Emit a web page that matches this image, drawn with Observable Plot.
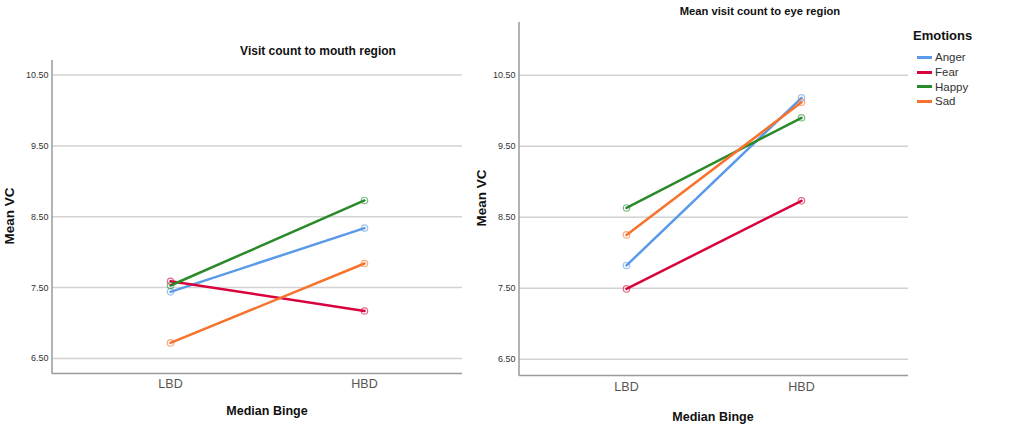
<!DOCTYPE html>
<html>
<head>
<meta charset="utf-8">
<script src="https://cdn.jsdelivr.net/npm/d3@7"></script>
<script src="https://cdn.jsdelivr.net/npm/@observablehq/plot@0.6"></script>
<style>
  html, body { margin: 0; padding: 0; background: #fff; }
  #wrap { position: relative; width: 1018px; height: 425px; overflow: hidden; font-family: "Liberation Sans", Arial, sans-serif; }
  .lbl { position: absolute; transform: translate(-50%, -50%); white-space: nowrap; line-height: 1; color: #111; font-weight: bold; }
  .rot { transform: translate(-50%, -50%) rotate(-90deg); }
  #legend { position: absolute; left: 913px; top: 28px; font-size: 11.5px; color: #333; }
  #legend .ttl { font-weight: bold; font-size: 13px; color: #111; margin-bottom: 7px; }
  #legend .row { display: flex; align-items: center; height: 14.7px; margin-left: 4px; }
  #legend .sw { width: 15px; height: 3px; margin-right: 3px; }
</style>
</head>
<body>
<div id="wrap"></div>
<script>
// ---- data ----
const groups = ["LBD", "HBD"];
const emotions = ["Anger", "Fear", "Happy", "Sad"];
const emotionColors = ["#5a9ae8", "#d8033c", "#2a8a2a", "#f7722b"];
const mouthLBD = [7.44, 7.59, 7.53, 6.72];
const mouthHBD = [8.34, 7.17, 8.73, 7.84];
const eyeLBD = [7.82, 7.49, 8.63, 8.25];
const eyeHBD = [10.18, 8.73, 9.90, 10.12];
const yTicks = [6.5, 7.5, 8.5, 9.5, 10.5];
const mouthTitle = "Visit count to mouth region";
const eyeTitle = "Mean visit count to eye region";
const yLabel = "Mean VC";
const xLabel = "Median Binge";
const legendTitle = "Emotions";

function toRows(lbd, hbd) {
  const rows = [];
  emotions.forEach((e, i) => {
    rows.push({emotion: e, group: groups[0], value: lbd[i]});
    rows.push({emotion: e, group: groups[1], value: hbd[i]});
  });
  return rows;
}

function panel(rows, o) {
  const svg = Plot.plot({
    width: o.width, height: 425,
    marginLeft: o.ml, marginRight: o.mr, marginTop: o.mt, marginBottom: o.mb,
    style: {fontFamily: "'Liberation Sans', Arial, sans-serif", background: "transparent", overflow: "visible"},
    x: {type: "point", domain: groups, padding: 0.5, insetLeft: o.il, insetRight: o.ir, axis: null},
    y: {domain: o.ydom, axis: null},
    color: {domain: emotions, range: emotionColors},
    marks: [
      Plot.ruleY(yTicks, {stroke: "#d2d2d2", strokeWidth: 1.5}),
      Plot.ruleY([o.ydom[0]], {stroke: "#9a9a9a", strokeWidth: 1.5}),
      Plot.axisY(yTicks, {tickSize: 0, tickPadding: 4, tickFormat: d3.format(".2f"), fontSize: 9, fill: "#333", label: null}),
      Plot.axisX({tickSize: 0, tickPadding: o.xpad, fontSize: 12.5, fill: "#555", label: null}),
      Plot.line(rows, {x: "group", y: "value", z: "emotion", stroke: "emotion", strokeWidth: 2.5}),
      Plot.dot(rows, {x: "group", y: "value", stroke: "emotion", r: 3.2, strokeWidth: 1.2, strokeOpacity: 0.6, fill: "none"})
    ]
  });
  d3.select(svg).append("line")
    .attr("x1", o.ml).attr("x2", o.ml)
    .attr("y1", o.mt).attr("y2", 425 - o.mb + 0.75)
    .attr("stroke", "#9a9a9a").attr("stroke-width", 1.5);
  svg.style.position = "absolute";
  svg.style.left = o.left + "px";
  svg.style.top = "0px";
  return svg;
}

const wrap = document.getElementById("wrap");

wrap.appendChild(panel(toRows(mouthLBD, mouthHBD), {
  left: 0, width: 470, ml: 52, mr: 8, mt: 60, mb: 52, il: 21, ir: 1,
  ydom: [6.288, 10.705], xpad: 6
}));
wrap.appendChild(panel(toRows(eyeLBD, eyeHBD), {
  left: 470, width: 548, ml: 49, mr: 110, mt: 22, mb: 50, il: 19.5, ir: 19.5,
  ydom: [6.27, 11.242], xpad: 7
}));

function label(text, x, y, size, rot) {
  const d = document.createElement("div");
  d.className = "lbl" + (rot ? " rot" : "");
  d.style.left = x + "px";
  d.style.top = y + "px";
  d.style.fontSize = size + "px";
  d.textContent = text;
  wrap.appendChild(d);
}
label(mouthTitle, 318, 51, 12);
label(eyeTitle, 760, 12, 11.2);
label(yLabel, 10, 216, 13.5, true);
label(yLabel, 482, 198, 13.5, true);
label(xLabel, 267, 411, 12.5);
label(xLabel, 713, 417, 12.5);

// legend
const lg = document.createElement("div");
lg.id = "legend";
const t = document.createElement("div");
t.className = "ttl";
t.textContent = legendTitle;
lg.appendChild(t);
emotions.forEach((e, i) => {
  const r = document.createElement("div");
  r.className = "row";
  const sw = document.createElement("span");
  sw.className = "sw";
  sw.style.background = emotionColors[i];
  const tx = document.createElement("span");
  tx.textContent = e;
  r.appendChild(sw); r.appendChild(tx);
  lg.appendChild(r);
});
wrap.appendChild(lg);
</script>
</body>
</html>
